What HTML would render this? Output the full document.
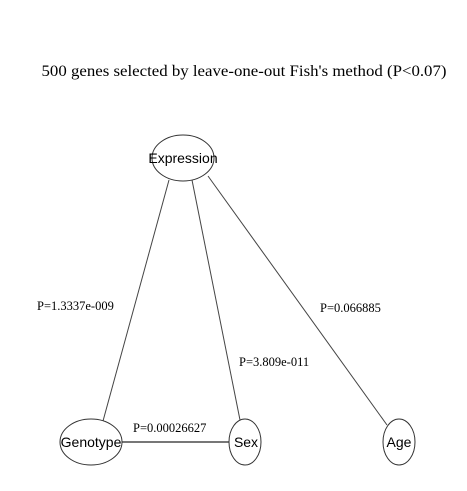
<!DOCTYPE html>
<html><head><style>body{margin:0;background:#fff}svg{display:block}</style></head>
<body>
<svg width="467" height="491" xmlns="http://www.w3.org/2000/svg">
<rect width="467" height="491" fill="#fff"/>
<text x="244" y="76" text-anchor="middle" font-family="Liberation Serif, serif" font-size="16.3" textLength="405" lengthAdjust="spacingAndGlyphs">500 genes selected by leave-one-out Fish's method (P&lt;0.07)</text>
<g stroke="#444" stroke-width="1" fill="none">
<line x1="169" y1="180" x2="103" y2="421"/>
<line x1="192" y1="180" x2="240" y2="420"/>
<line x1="208" y1="176" x2="387" y2="425"/>
<line x1="122" y1="442" x2="229" y2="442" stroke="#777" stroke-width="2"/>
<ellipse cx="183" cy="158" rx="31" ry="23" stroke="#333"/>
<ellipse cx="91" cy="442" rx="31" ry="23" stroke="#333"/>
<ellipse cx="245" cy="442" rx="16" ry="23" stroke="#333"/>
<ellipse cx="399" cy="442" rx="16" ry="23" stroke="#333"/>
</g>
<g font-family="Liberation Sans, sans-serif" font-size="14" text-anchor="middle">
<text x="183" y="163">Expression</text>
<text x="91" y="447">Genotype</text>
<text x="246" y="447">Sex</text>
<text x="399" y="447">Age</text>
</g>
<g font-family="Liberation Serif, serif" font-size="12.5">
<text x="37" y="310">P=1.3337e-009</text>
<text x="239" y="366">P=3.809e-011</text>
<text x="320" y="312">P=0.066885</text>
<text x="133" y="432">P=0.00026627</text>
</g>
</svg>
</body></html>
